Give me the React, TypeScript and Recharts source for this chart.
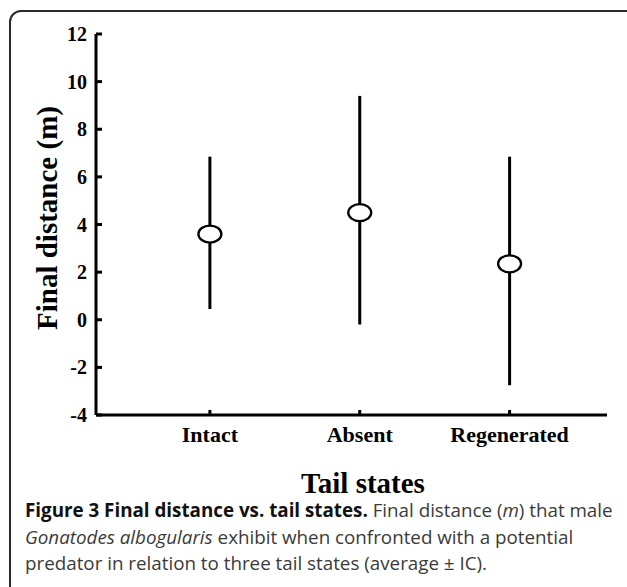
import React from 'react';
import { ComposedChart, Scatter, XAxis, YAxis, ErrorBar } from 'recharts';

const categories = ['Intact', 'Absent', 'Regenerated'];
const means = [3.6, 4.5, 2.35];
const lower = [0.45, -0.2, -2.75];
const upper = [6.85, 9.4, 6.85];
const yTicks = [-4, -2, 0, 2, 4, 6, 8, 10, 12];

const rows = categories.map((name, i) => ({
  x: i + 1,
  name,
  mean: means[i],
  err: [means[i] - lower[i], upper[i] - means[i]],
}));

const serif = '"Liberation Serif", "Times New Roman", serif';

const MeanMarker = (props: any) => {
  const { cx, cy } = props;
  return <ellipse cx={cx} cy={cy} rx={11.5} ry={8.5} fill="#fff" stroke="#000" strokeWidth={2.3} />;
};

const App = () => {
  return (
    <div style={{ position: 'fixed', left: 0, top: 0, width: 627, height: 587, overflow: 'hidden', background: '#fff' }}>
      <div
        style={{
          position: 'absolute',
          left: 9,
          top: 10,
          width: 630,
          height: 620,
          border: '2px solid #2a2a2a',
          borderRadius: 12,
        }}
      />
      <div style={{ position: 'absolute', left: 0, top: 0 }}>
        <ComposedChart width={627} height={470} data={rows} margin={{ top: 34, right: 20, bottom: 25, left: 36 }}>
          <XAxis
            dataKey="x"
            type="number"
            domain={[0.24, 3.65]}
            ticks={[1, 2, 3]}
            allowDataOverflow
            tickFormatter={(v: number) => categories[v - 1]}
            height={30}
            axisLine={{ stroke: '#000', strokeWidth: 3 }}
            tickLine={{ stroke: '#000', strokeWidth: 3 }}
            tickSize={-5}
            tickMargin={16}
            tick={{ fill: '#000', fontFamily: serif, fontWeight: 'bold', fontSize: 22 }}
          />
          <YAxis
            type="number"
            domain={[-4, 12]}
            ticks={yTicks}
            allowDataOverflow
            width={60}
            axisLine={{ stroke: '#000', strokeWidth: 3 }}
            tickLine={{ stroke: '#000', strokeWidth: 3 }}
            tickSize={-6}
            tickMargin={15}
            tick={{ fill: '#000', fontFamily: serif, fontWeight: 'bold', fontSize: 20 }}
          />
          <Scatter dataKey="mean" shape={<MeanMarker />} isAnimationActive={false}>
            <ErrorBar dataKey="err" direction="y" width={0} stroke="#000" strokeWidth={3} isAnimationActive={false} />
          </Scatter>
        </ComposedChart>
      </div>
      <div
        style={{
          position: 'absolute',
          left: 47,
          top: 218,
          transform: 'translate(-50%, -50%) rotate(-90deg)',
          whiteSpace: 'nowrap',
          fontFamily: serif,
          fontWeight: 'bold',
          fontSize: 29,
          color: '#000',
        }}
      >
        Final distance (m)
      </div>
      <div
        style={{
          position: 'absolute',
          left: 363,
          top: 483,
          transform: 'translate(-50%, -50%)',
          whiteSpace: 'nowrap',
          fontFamily: serif,
          fontWeight: 'bold',
          fontSize: 29,
          color: '#000',
        }}
      >
        Tail states
      </div>
      <div
        style={{
          position: 'absolute',
          left: 25,
          top: 497,
          fontFamily: '"Open Sans", sans-serif',
          fontSize: 18.8,
          lineHeight: '26.5px',
          color: '#3a3a3a',
          whiteSpace: 'nowrap',
        }}
      >
        <span style={{ fontWeight: 'bold', color: '#111' }}>Figure 3 Final distance vs. tail states.</span> Final distance (
        <i>m</i>) that male
        <br />
        <i>Gonatodes albogularis</i> exhibit when confronted with a potential
        <br />
        predator in relation to three tail states (average ± IC).
      </div>
    </div>
  );
};

export default App;
